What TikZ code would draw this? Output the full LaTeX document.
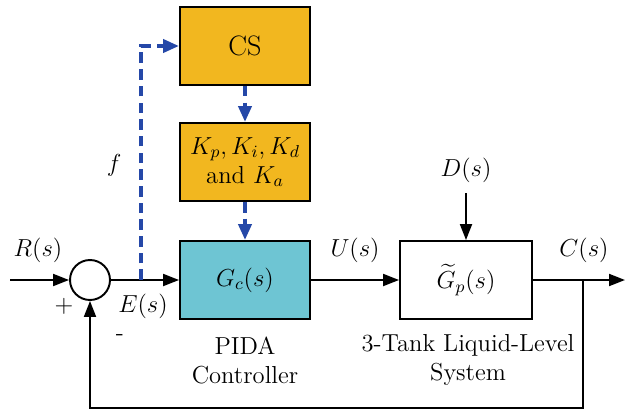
\documentclass[tikz,border=0pt]{standalone}
\usepackage{fix-cm}
\usepackage{amsmath}
\usetikzlibrary{arrows.meta, positioning, calc}
\definecolor{csGold}{HTML}{F2B71F}
\definecolor{gcCyan}{HTML}{6EC5D3}
\definecolor{tuneBlue}{HTML}{2548A8}
\tikzset{
  arrowK/.style={-{Triangle[length=3.2mm, width=2.4mm]}, black, line width=1.1pt},
  arrowB/.style={-{Triangle[length=3.2mm, width=2.6mm]}, tuneBlue, line width=2.2pt,
                 dash pattern=on 6pt off 3.5pt},
  boxGold/.style={rectangle, draw=black, line width=1.1pt, fill=csGold,
                  align=center, minimum width=2.6cm, minimum height=1.56cm},
  boxCyan/.style={rectangle, draw=black, line width=1.1pt, fill=gcCyan,
                  align=center, minimum width=2.6cm, minimum height=1.56cm},
  boxW/.style={rectangle, draw=black, line width=1.1pt, fill=white,
               align=center, minimum width=2.64cm, minimum height=1.56cm},
  sumC/.style={circle, draw=black, line width=1.1pt, minimum size=0.8cm, inner sep=0pt},
  lbl/.style={inner sep=1pt, align=center},
}

\begin{document}
\begin{tikzpicture}[x=0.02cm, y=-0.02cm, font=\fontsize{14}{16.5}\selectfont]
    \useasboundingbox (0,0) rectangle (625,412);
    % blocks
    \node[sumC]    (sum)   at (90,280)  {};
    \node[boxGold] (cs)    at (245,46)  {\fontsize{16}{19}\selectfont CS};
    \node[boxGold] (gains) at (245,162) {$K_p, K_i, K_d$\\and $K_a$};
    \node[boxCyan] (gc)    at (245,280) {$G_c(s)$};
    \node[boxW]    (gp)    at (466,280) {$\widetilde{G}_p(s)$};
    % helper points
    \coordinate (in)   at (10,280);
    \coordinate (br)   at (141,280);
    \coordinate (brT)  at (141,46);
    \coordinate (dist) at (466,193);
    \coordinate (tap)  at (583,280);
    \coordinate (out)  at (625,280);
    \coordinate (fbR)  at (583,408);
    \coordinate (fbL)  at (90,408);
    % signal path
    \draw[arrowK] (in) -- (sum.west);
    \draw[arrowK] (sum.east) -- (gc.west);
    \draw[arrowK] (gc.east) -- (gp.west);
    \draw[arrowK] (gp.east) -- (out);
    \draw[arrowK] (dist) -- (gp.north);
    \draw[arrowK] (tap) -- (fbR) -- (fbL) -- (sum.south);
    % tuning path
    \draw[arrowB] (br) -- (brT) -- (cs.west);
    \draw[arrowB] (cs.south) -- (gains.north);
    \draw[arrowB] (gains.south) -- (gc.north);
    % labels
    \node[lbl] (lR) at (38,250)  {$R(s)$};
    \node[lbl] (lp) at (64,306)  {$+$};
    \node[lbl] (lm) at (120,338) {-};
    \node[lbl] (lE) at (143,306) {$E(s)$};
    \node[lbl] (lf) at (114,165) {$f$};
    \node[lbl] (lU) at (355,250) {$U(s)$};
    \node[lbl] (lC) at (584,250) {$C(s)$};
    \node[lbl] (lD) at (466,170) {$D(s)$};
    \node[lbl] (lc) at (245,360) {PIDA\\Controller};
    \node[lbl] (ls) at (468,360) {3-Tank Liquid-Level\\System};
  \end{tikzpicture}
\end{document}
